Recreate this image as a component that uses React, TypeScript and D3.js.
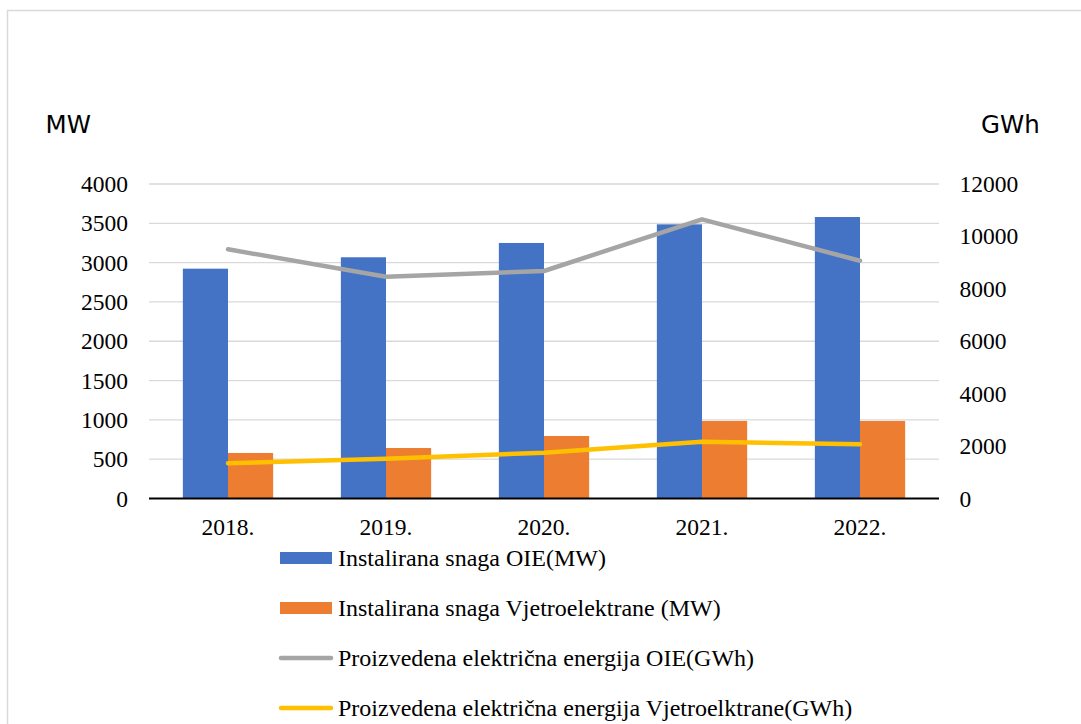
import React from "react";
import * as d3 from "d3";

// Categories and series values
const years = ["2018.", "2019.", "2020.", "2021.", "2022."];
const oieMW = [2923, 3068, 3250, 3487, 3580];
const windMW = [579, 642, 795, 986, 986];
const oieGWh = [9508, 8463, 8680, 10653, 9073];
const windGWh = [1343, 1512, 1748, 2167, 2068];

const leftTicks = [0, 500, 1000, 1500, 2000, 2500, 3000, 3500, 4000];
const rightTicks = [0, 2000, 4000, 6000, 8000, 10000, 12000];

const legendItems = [
  { label: "Instalirana snaga OIE(MW)", color: "#4472C4", kind: "bar" },
  { label: "Instalirana snaga Vjetroelektrane (MW)", color: "#ED7D31", kind: "bar" },
  { label: "Proizvedena električna energija OIE(GWh)", color: "#A5A5A5", kind: "line" },
  { label: "Proizvedena električna energija Vjetroelktrane(GWh)", color: "#FFC000", kind: "line" },
];

const W = 1081;
const H = 724;
const plot = { left: 149, right: 939, top: 184, bottom: 498.5 };
const serif = "'Liberation Serif', 'Times New Roman', serif";
const sans = "'DejaVu Sans', Verdana, sans-serif";

export default function App() {
  const x = d3.scaleBand<string>().domain(years).range([plot.left, plot.right]);
  const yL = d3.scaleLinear().domain([0, 4000]).range([plot.bottom, plot.top]);
  const yR = d3.scaleLinear().domain([0, 12000]).range([plot.bottom, plot.top]);
  const barW = x.bandwidth() / 3.5;
  const cx = (d: string) => (x(d) as number) + x.bandwidth() / 2;

  const line = (vals: number[]) =>
    d3
      .line<number>()
      .x((_, i) => cx(years[i]))
      .y((v) => yR(v))(vals) as string;

  return (
    <svg
      width={W}
      height={H}
      style={{ position: "absolute", left: 0, top: 0, background: "#fff" }}
    >
      {/* outer frame */}
      <line x1={7.5} y1={10} x2={7.5} y2={H} stroke="#d9d9d9" strokeWidth={1.5} />
      <line x1={7} y1={10.5} x2={W} y2={10.5} stroke="#d9d9d9" strokeWidth={1.5} />

      {/* gridlines */}
      {leftTicks
        .filter((t) => t > 0)
        .map((t) => (
          <line
            key={t}
            x1={plot.left}
            x2={plot.right}
            y1={yL(t)}
            y2={yL(t)}
            stroke="#d9d9d9"
            strokeWidth={1.3}
          />
        ))}

      {/* bars */}
      {years.map((yr, i) => (
        <g key={yr}>
          <rect x={cx(yr) - barW} y={yL(oieMW[i])} width={barW} height={yL(0) - yL(oieMW[i])} fill="#4472C4" />
          <rect x={cx(yr)} y={yL(windMW[i])} width={barW} height={yL(0) - yL(windMW[i])} fill="#ED7D31" />
        </g>
      ))}

      {/* base axis */}
      <line x1={plot.left} x2={plot.right} y1={plot.bottom} y2={plot.bottom} stroke="#000" strokeWidth={1.8} />

      {/* lines on secondary axis */}
      <path d={line(oieGWh)} fill="none" stroke="#A5A5A5" strokeWidth={4.5} strokeLinecap="round" strokeLinejoin="round" />
      <path d={line(windGWh)} fill="none" stroke="#FFC000" strokeWidth={4.5} strokeLinecap="round" strokeLinejoin="round" />

      {/* left axis labels */}
      {leftTicks.map((t) => (
        <text key={t} x={128} y={yL(t) + 8} textAnchor="end" fontFamily={serif} fontSize={23.5} fill="#000">
          {t}
        </text>
      ))}

      {/* right axis labels */}
      {rightTicks.map((t) => (
        <text key={t} x={959.5} y={yR(t) + 8} textAnchor="start" fontFamily={serif} fontSize={23.5} fill="#000">
          {t}
        </text>
      ))}

      {/* category labels */}
      {years.map((yr) => (
        <text key={yr} x={cx(yr)} y={535} textAnchor="middle" fontFamily={serif} fontSize={23.5} fill="#000">
          {yr}
        </text>
      ))}

      {/* axis unit titles */}
      <text x={45.5} y={132.7} fontFamily={sans} fontSize={24.5} fill="#000">MW</text>
      <text x={981} y={133.3} fontFamily={sans} fontSize={24.5} fill="#000">GWh</text>

      {/* legend */}
      {legendItems.map((it, i) => {
        const cy = 558 + i * 50;
        return (
          <g key={it.label}>
            {it.kind === "bar" ? (
              <rect x={280} y={cy - 6} width={52} height={12} fill={it.color} />
            ) : (
              <line x1={281} x2={331} y1={cy} y2={cy} stroke={it.color} strokeWidth={4.5} strokeLinecap="round" />
            )}
            <text x={338} y={cy + 7.5} fontFamily={serif} fontSize={24} fill="#000">
              {it.label}
            </text>
          </g>
        );
      })}
    </svg>
  );
}
